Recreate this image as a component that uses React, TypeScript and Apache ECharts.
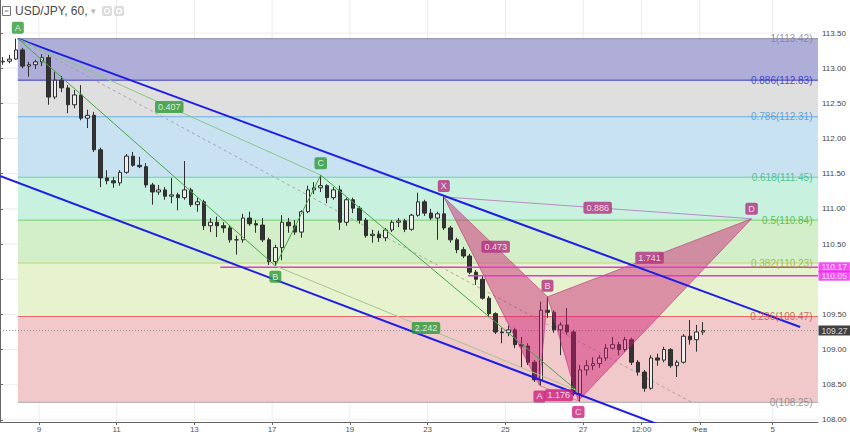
import React, { useEffect, useRef } from 'react';
import * as echarts from 'echarts';

// ---- time axis (bar index = hours) ----
const X_MAX = 505;
const timeTicks = [24, 72, 120, 168, 216, 264, 312, 360, 396, 432, 477];
const timeTickLabels = ['9', '11', '13', '17', '19', '23', '25', '27', '12:00', 'Фев', '5'];

// ---- price axis ----
const Y_MIN = 107.97;
const Y_MAX = 113.97;
const priceTicks = [108, 108.5, 109, 109.5, 110, 110.5, 111, 111.5, 112, 112.5, 113, 113.5];
// 110.00 is covered by the price boxes in the reference
const priceTickLabels = [108, 108.5, 109, 109.5, 110.5, 111, 111.5, 112, 112.5, 113, 113.5];

// ---- 4-hour candles ----
const CANDLE_SPAN = 4;
const firstOpen = 113.09;
const closes = [
  113.10, 113.13, 113.26, 113.03, 113.05, 113.09, 113.15, 112.59, 112.83, 112.72,
  112.48, 112.62, 112.29, 112.33, 111.84, 111.44, 111.40, 111.37, 111.52, 111.75,
  111.62, 111.60, 111.34, 111.24, 111.27, 111.18, 111.20, 111.16, 111.27, 111.06,
  111.10, 110.76, 110.81, 110.76, 110.73, 110.56, 110.56, 110.87, 110.79, 110.77,
  110.56, 110.25, 110.45, 110.81, 110.76, 110.67, 110.96, 111.27, 111.30, 111.33,
  111.16, 111.27, 110.81, 111.13, 111.01, 110.84, 110.62, 110.64, 110.59, 110.70,
  110.81, 110.83, 110.71, 110.91, 111.10, 110.94, 110.87, 110.93, 110.73, 110.56,
  110.42, 110.33, 110.10, 110.00, 109.73, 109.51, 109.25, 109.24, 109.28, 109.07,
  109.05, 108.82, 108.57, 109.56, 109.53, 109.28, 109.35, 109.25, 108.37, 108.71,
  108.77, 108.80, 108.88, 109.02, 109.07, 109.00, 109.14, 108.82, 108.68, 108.45,
  108.88, 108.85, 109.00, 108.77, 108.82, 109.19, 109.14, 109.25, 109.27,
];
const highs = [
  113.16, 113.19, 113.42, 113.29, 113.09, 113.12, 113.20, 113.19, 112.95, 112.89,
  112.76, 112.69, 112.76, 112.41, 112.38, 111.87, 111.55, 111.45, 111.55, 111.78,
  111.81, 111.74, 111.65, 111.37, 111.34, 111.31, 111.44, 111.23, 111.68, 111.30,
  111.16, 111.13, 110.87, 110.89, 110.81, 110.77, 110.62, 110.93, 110.96, 110.84,
  110.87, 110.59, 110.49, 110.91, 110.87, 110.84, 110.98, 111.33, 111.38, 111.48,
  111.35, 111.31, 111.33, 111.16, 111.16, 111.04, 110.87, 110.70, 110.69, 110.73,
  110.84, 110.87, 110.86, 110.93, 111.23, 111.13, 111.00, 110.96, 111.17, 110.76,
  110.59, 110.46, 110.36, 110.13, 110.06, 109.76, 109.53, 109.31, 109.34, 109.31,
  109.18, 109.09, 108.85, 109.68, 109.75, 109.56, 109.39, 109.59, 109.28, 108.78,
  108.85, 108.89, 108.92, 109.08, 109.18, 109.11, 109.18, 109.17, 108.85, 108.71,
  108.92, 108.94, 109.04, 109.02, 108.85, 109.22, 109.42, 109.35, 109.39,
];
const lows = [
  113.05, 113.07, 113.12, 113.00, 112.88, 112.99, 113.03, 112.48, 112.56, 112.66,
  112.36, 112.43, 112.26, 112.15, 111.81, 111.31, 111.35, 111.30, 111.33, 111.50,
  111.60, 111.58, 111.30, 111.06, 111.20, 111.13, 111.08, 110.98, 111.13, 111.03,
  110.96, 110.70, 110.67, 110.60, 110.66, 110.52, 110.35, 110.52, 110.76, 110.66,
  110.53, 110.20, 110.19, 110.27, 110.66, 110.63, 110.59, 110.94, 111.21, 111.24,
  111.08, 111.13, 110.70, 110.76, 110.94, 110.79, 110.59, 110.52, 110.53, 110.54,
  110.67, 110.74, 110.67, 110.69, 110.89, 110.90, 110.84, 110.56, 110.70, 110.52,
  110.37, 110.30, 110.07, 109.92, 109.71, 109.46, 109.22, 109.09, 109.19, 109.02,
  108.74, 108.78, 108.54, 108.48, 109.45, 109.24, 108.92, 109.21, 108.34, 108.26,
  108.63, 108.71, 108.74, 108.84, 109.00, 108.92, 108.97, 108.78, 108.63, 108.40,
  108.43, 108.77, 108.82, 108.74, 108.61, 108.80, 109.07, 108.97, 109.21,
];

// ---- Fibonacci retracement ----
const fibStartBar = 11;
const fibEndBar = 427;
const fibRatios = ['1', '0.886', '0.786', '0.618', '0.5', '0.382', '0.236', '0'];
const fibPrices = [113.42, 112.83, 112.31, 111.45, 110.84, 110.23, 109.47, 108.25];
const fibLineColors = ['#8a8aa8', '#3434c8', '#6aaede', '#62d2a4', '#74cf6e', '#bcd676', '#e46a6a', '#a8a8a8'];
const fibTextColors = ['#7e7e8e', '#2424cc', '#3f94d2', '#2fb982', '#3db42e', '#8fb12e', '#d03c3c', '#808080'];
const fibBandColors = ['#aeaed9', '#dfdfdf', '#c9e2f2', '#c9f1df', '#d3efc9', '#e7f2ce', '#f1c9cb'];

// ---- trend channel ----
const channelUpper = [[11, 113.42], [494, 109.32]];
const channelLower = [[0, 111.47], [430, 107.73]];

// ---- green ABCD pattern ----
const abcdNames = ['A', 'B', 'C', 'D'];
const abcdPoints = [[11, 113.42], [170, 110.19], [198, 111.48], [356, 108.42]];
const abcdRatios = ['0.407', '2.242']; // A-C, B-D

// ---- magenta XABCD pattern ----
const xabcdNames = ['X', 'A', 'B', 'C', 'D'];
const xabcdPoints = [[274, 111.17], [333, 108.49], [338, 109.75], [357, 108.27], [464, 110.86]];
const xabcdRatios = ['0.473', '1.176', '1.741', '0.886']; // X-B, A-C, B-D, X-D

// ---- horizontal lines ----
const hLinePrices = [110.17, 110.05];
const hLineStarts = [136, 289];
const lastPrice = 109.27;

const FONT = '"Liberation Sans", Arial, sans-serif';
const GREEN = '#2e9a35';
const MAGENTA_LBL = '#b2307e';
const MAGENTA_LBL2 = '#cc1f80';

function mid(a: number[], b: number[]) {
  return [(a[0] + b[0]) / 2, (a[1] + b[1]) / 2];
}

function buildOption() {
  const candles: number[][] = [];
  let open = firstOpen;
  for (let i = 0; i < closes.length; i++) {
    candles.push([i * CANDLE_SPAN + CANDLE_SPAN / 2, open, closes[i], lows[i], highs[i]]);
    open = closes[i];
  }

  const seg = (data: number[][], color: string, width: number, z: number, type: any = 'solid', opacity = 1) => ({
    type: 'line',
    data,
    symbol: 'none',
    silent: true,
    z,
    clip: true,
    lineStyle: { color, width, type, opacity },
  });

  const series: any[] = [];

  // grid lines
  series.push({
    type: 'custom',
    z: 0,
    silent: true,
    data: timeTicks.map((t) => [t, Y_MIN]),
    encode: { x: 0, y: 1 },
    renderItem: (params: any, api: any) => {
      const p = api.coord([api.value(0), api.value(1)]);
      const cs = params.coordSys;
      return { type: 'line', shape: { x1: p[0], y1: cs.y, x2: p[0], y2: cs.y + cs.height }, style: { stroke: '#ececec', lineWidth: 1 } };
    },
  });
  series.push({
    type: 'custom',
    z: 0,
    silent: true,
    data: priceTicks.map((p) => [0, p]),
    encode: { x: 0, y: 1 },
    renderItem: (params: any, api: any) => {
      const p = api.coord([api.value(0), api.value(1)]);
      const cs = params.coordSys;
      return { type: 'line', shape: { x1: cs.x, y1: p[1], x2: cs.x + cs.width, y2: p[1] }, style: { stroke: '#ececec', lineWidth: 1 } };
    },
  });

  // fib bands
  const bandData = fibBandColors.map((_, k) => [fibStartBar, X_MAX, fibPrices[k], fibPrices[k + 1]]);
  series.push({
    type: 'custom',
    z: 1,
    silent: true,
    data: bandData,
    encode: { x: [0, 1], y: [2, 3] },
    renderItem: (params: any, api: any) => {
      const p0 = api.coord([api.value(0), api.value(2)]);
      const p1 = api.coord([api.value(1), api.value(3)]);
      return {
        type: 'rect',
        shape: { x: p0[0], y: p0[1], width: p1[0] - p0[0], height: p1[1] - p0[1] },
        style: { fill: fibBandColors[params.dataIndex] },
      };
    },
  });

  // fib level lines
  fibPrices.forEach((p, k) => {
    series.push(seg([[fibStartBar, p], [X_MAX, p]], fibLineColors[k], 1, 2));
  });
  // fib trend (dashed)
  series.push(seg([[fibStartBar, fibPrices[0]], [fibEndBar, fibPrices[fibPrices.length - 1]]], '#9a9a9a', 1, 2, [3, 3], 0.8));

  // last price line
  series.push(seg([[0, lastPrice], [X_MAX, lastPrice]], '#8c8c8c', 1, 2, [1, 2], 0.9));

  // candles
  series.push({
    type: 'candlestick',
    z: 3,
    silent: true,
    data: candles,
    encode: { x: 0, y: [1, 2, 3, 4] },
    barWidth: 4,
    itemStyle: {
      color: '#eeeeee',
      color0: '#333333',
      borderColor: '#2e2e2e',
      borderColor0: '#2e2e2e',
      borderWidth: 1,
    },
  });

  // XABCD triangles
  const [X, A, B, C, D] = xabcdPoints;
  series.push({
    type: 'custom',
    z: 4,
    silent: true,
    data: [[...X, ...A, ...B], [...B, ...C, ...D]],
    encode: { x: [0, 2, 4], y: [1, 3, 5] },
    renderItem: (params: any, api: any) => {
      const pts = [0, 1, 2].map((k) => api.coord([api.value(2 * k), api.value(2 * k + 1)]));
      return {
        type: 'polygon',
        shape: { points: pts },
        style: { fill: 'rgba(205,22,112,0.45)', stroke: 'rgba(185,40,120,0.55)', lineWidth: 1 },
      };
    },
  });
  // XABCD helper lines
  series.push(seg([X, D], '#b98ac6', 1, 5));
  series.push(seg([A, C], '#e07ab0', 1, 5));

  // horizontal magenta lines
  hLinePrices.forEach((p, k) => {
    series.push(seg([[hLineStarts[k], p], [X_MAX, p]], '#e03ad6', 1.5, 5));
  });

  // blue channel
  series.push(seg(channelUpper, '#1d1de6', 2, 5));
  series.push(seg(channelLower, '#1d1de6', 2, 5));

  // green ABCD
  const [gA, gB, gC, gD] = abcdPoints;
  series.push(seg([gA, gC], '#86c886', 1, 5));
  series.push(seg([gB, gD], '#a8c48e', 1, 5));
  series.push(seg([gA, gB, gC, gD], '#43a843', 1, 5));

  // labels
  const items: any[] = [];
  const box = (pt: number[], text: string, bg: string, offY: number) => {
    items.push({
      value: pt,
      label: {
        show: true,
        position: 'inside',
        offset: [0, offY],
        formatter: text,
        backgroundColor: bg,
        color: '#ffffff',
        textBorderWidth: 0,
        fontSize: 9,
        fontFamily: FONT,
        padding: [2, 3, 1, 3],
        borderRadius: 2,
      },
    });
  };
  // fib texts
  fibPrices.forEach((p, k) => {
    items.push({
      value: [X_MAX, p],
      label: {
        show: true,
        position: 'left',
        distance: 5,
        formatter: `${fibRatios[k]}(${p.toFixed(2)})`,
        color: fibTextColors[k],
        textBorderWidth: 0,
        fontSize: 10,
        fontFamily: FONT,
      },
    });
  });
  // green ABCD labels
  box(gA, abcdNames[0], GREEN, -11);
  box(gB, abcdNames[1], GREEN, 11);
  box(gC, abcdNames[2], GREEN, -12);
  box(mid(gA, gC), abcdRatios[0], GREEN, 0);
  box(mid(gB, gD), abcdRatios[1], GREEN, 0);
  // XABCD labels
  const xOff = [-11, 11, -11, 11, -10];
  xabcdPoints.forEach((pt, k) => {
    box(pt, xabcdNames[k], k === 1 || k === 3 ? MAGENTA_LBL2 : MAGENTA_LBL, xOff[k]);
  });
  box(mid(X, B), xabcdRatios[0], MAGENTA_LBL, 0);
  box(mid(A, C), xabcdRatios[1], MAGENTA_LBL2, 2);
  box(mid(B, D), xabcdRatios[2], MAGENTA_LBL, 0);
  box(mid(X, D), xabcdRatios[3], MAGENTA_LBL, 0);
  // price boxes on the axis
  const priceBox = (p: number, bg: string) => {
    items.push({
      value: [X_MAX, p],
      label: {
        show: true,
        position: 'right',
        distance: 0,
        formatter: p.toFixed(2),
        backgroundColor: bg,
        color: '#ffffff',
        textBorderWidth: 0,
        fontSize: 8.5,
        lineHeight: 9,
        fontFamily: FONT,
        padding: [1, 3, 0, 3],
      },
    });
  };
  hLinePrices.forEach((p) => priceBox(p, '#f024f0'));
  priceBox(lastPrice, '#111111');

  series.push({
    type: 'scatter',
    z: 6,
    silent: true,
    clip: false,
    symbolSize: 1,
    itemStyle: { color: 'transparent' },
    data: items,
  });

  return {
    animation: false,
    backgroundColor: '#ffffff',
    grid: { left: 0, right: 32, top: 0, bottom: 13, containLabel: false, outerBoundsMode: 'none' },
    xAxis: {
      type: 'value',
      min: 0,
      max: X_MAX,
      axisLine: { show: true, lineStyle: { color: '#666', width: 1 } },
      axisTick: { show: true, length: 3, customValues: timeTicks, lineStyle: { color: '#666' } },
      axisLabel: {
        customValues: timeTicks,
        formatter: (v: number) => {
          const i = timeTicks.indexOf(Math.round(v));
          return i >= 0 ? timeTickLabels[i] : '';
        },
        fontSize: 8,
        color: '#555',
        margin: 3,
        fontFamily: FONT,
      },
      splitLine: { show: false },
    },
    yAxis: {
      type: 'value',
      position: 'right',
      min: Y_MIN,
      max: Y_MAX,
      scale: true,
      axisLine: { show: true, lineStyle: { color: '#666', width: 1 } },
      axisTick: { show: true, length: 3, customValues: priceTicks, lineStyle: { color: '#666' } },
      axisLabel: {
        customValues: priceTickLabels,
        formatter: (v: number) => v.toFixed(2),
        fontSize: 8,
        color: '#444',
        margin: 4,
        fontFamily: FONT,
      },
      splitLine: { show: false },
    },
    graphic: [
      { type: 'rect', z: 100, shape: { x: 2.5, y: 6.5, width: 8, height: 9 }, style: { fill: 'none', stroke: '#777', lineWidth: 1 } },
      { type: 'line', z: 100, shape: { x1: 4.5, y1: 11, x2: 8.5, y2: 11 }, style: { stroke: '#777', lineWidth: 1 } },
      { type: 'text', z: 100, x: 15, y: 11, style: { text: 'USD/JPY, 60,', fill: '#4a4a4a', font: `12px ${FONT}`, verticalAlign: 'middle' } },
      { type: 'text', z: 100, x: 91, y: 11, style: { text: '▾', fill: '#b5b5b5', font: '9px "DejaVu Sans"', verticalAlign: 'middle' } },
      { type: 'rect', z: 100, shape: { x: 102, y: 6, width: 10, height: 10, r: 2 }, style: { fill: '#dcdcdc' } },
      { type: 'circle', z: 101, shape: { cx: 107, cy: 11, r: 2.5 }, style: { fill: 'none', stroke: '#fff', lineWidth: 1.2 } },
      { type: 'rect', z: 100, shape: { x: 114, y: 6, width: 10, height: 10, r: 2 }, style: { fill: '#dcdcdc' } },
      { type: 'circle', z: 101, shape: { cx: 119, cy: 11, r: 2.5 }, style: { fill: 'none', stroke: '#fff', lineWidth: 1.6 } },
    ],
    series,
  };
}

export default function App() {
  const ref = useRef<HTMLDivElement>(null);
  useEffect(() => {
    if (!ref.current) return;
    const chart = echarts.init(ref.current, null, { renderer: 'svg' });
    chart.setOption(buildOption() as any);
    return () => chart.dispose();
  }, []);
  return (
    <div
      ref={ref}
      style={{ position: 'absolute', left: 0, top: 0, width: 850, height: 435, background: '#fff' }}
    />
  );
}
